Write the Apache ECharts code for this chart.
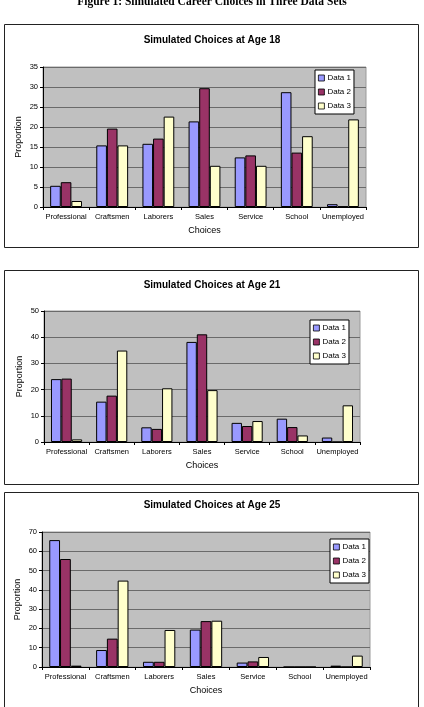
<!DOCTYPE html>
<html>
<head>
<meta charset="utf-8">
<script src="https://cdn.jsdelivr.net/npm/echarts@6/dist/echarts.min.js"></script>
<style>
html,body{margin:0;padding:0;background:#fff;}
#chart{width:424px;height:707px;}
</style>
</head>
<body>
<div id="chart"></div>
<script>
const figureTitle = 'Figure 1: Simulated Career Choices in Three Data Sets';
const categories = ['Professional','Craftsmen','Laborers','Sales','Service','School','Unemployed'];
const seriesNames = ['Data 1','Data 2','Data 3'];
const panelTitles = ['Simulated Choices at Age 18','Simulated Choices at Age 21','Simulated Choices at Age 25'];
const yMax = [35, 50, 70];
const yInterval = [5, 10, 10];

const age18Data1 = [5.3, 15.4, 15.8, 21.4, 12.4, 28.7, 0.7];
const age18Data2 = [6.2, 19.6, 17.1, 29.7, 12.9, 13.6, 0.15];
const age18Data3 = [1.5, 15.4, 22.6, 10.3, 10.3, 17.7, 21.9];

const age21Data1 = [24.0, 15.4, 5.6, 38.2, 7.3, 8.9, 1.7];
const age21Data2 = [24.2, 17.7, 5.0, 41.1, 6.1, 5.7, 0];
const age21Data3 = [1.0, 34.9, 20.5, 19.8, 8.0, 2.5, 14.0];

const age25Data1 = [65.8, 8.8, 2.7, 19.4, 2.3, 0, 0.7];
const age25Data2 = [56.0, 14.7, 2.7, 23.8, 2.9, 0, 0];
const age25Data3 = [0.7, 44.8, 19.2, 24.0, 5.2, 0, 5.9];

const panelData = [
  [age18Data1, age18Data2, age18Data3],
  [age21Data1, age21Data2, age21Data3],
  [age25Data1, age25Data2, age25Data3]
];
const colors = ['#9999FF', '#993366', '#FFFFCC'];

// layout
const panelBoxes = [
  {x: 4, y: 24, w: 414, h: 223},
  {x: 4, y: 270, w: 414, h: 214},
  {x: 4, y: 492, w: 414, h: 230}
];
const grids = [
  {left: 43, top: 67, width: 323, height: 140},
  {left: 44, top: 311, width: 316, height: 131},
  {left: 42, top: 532, width: 328, height: 135}
];
const titleY = [39, 284, 504];
const legendPos = [{left: 315, top: 70}, {left: 310, top: 320}, {left: 330, top: 539}];

const font = 'Liberation Sans, Arial, sans-serif';

const option = {
  animation: false,
  backgroundColor: '#fff',
  title: [],
  legend: [],
  grid: [],
  xAxis: [],
  yAxis: [],
  series: [],
  graphic: []
};

panelBoxes.forEach(b => {
  option.graphic.push({
    type: 'rect', z: -10,
    shape: {x: b.x + 0.5, y: b.y + 0.5, width: b.w, height: b.h},
    style: {fill: '#fff', stroke: '#222', lineWidth: 1}
  });
});
option.graphic.push({
  type: 'text', z: 10,
  style: {
    text: figureTitle, x: 212, y: 2, align: 'center', verticalAlign: 'middle',
    font: 'bold 11.5px "Liberation Serif", "Times New Roman", serif', fill: '#000'
  }
});

for (let p = 0; p < 3; p++) {
  const g = grids[p];
  option.title.push({
    text: panelTitles[p], left: 'center', top: titleY[p] - 9,
    textStyle: {fontFamily: font, fontSize: 10, fontWeight: 'bold', color: '#000'}
  });
  option.grid.push({
    left: g.left, top: g.top, width: g.width, height: g.height,
    show: true, backgroundColor: '#C0C0C0', borderColor: '#9a9a9a', borderWidth: 1
  });
  option.xAxis.push({
    type: 'category', gridIndex: p, data: categories,
    name: 'Choices', nameLocation: 'middle', nameGap: 19, nameMoveOverlap: false,
    nameTextStyle: {fontFamily: font, fontSize: 9, color: '#000'},
    axisLine: {lineStyle: {color: '#000', width: 1}},
    axisTick: {show: true, length: 3, lineStyle: {color: '#000'}},
    axisLabel: {fontFamily: font, fontSize: 7.5, color: '#000', margin: 6, interval: 0},
    splitLine: {show: false}
  });
  option.yAxis.push({
    type: 'value', gridIndex: p, min: 0, max: yMax[p], interval: yInterval[p],
    name: 'Proportion', nameLocation: 'middle', nameGap: 20, nameMoveOverlap: false,
    nameTextStyle: {fontFamily: font, fontSize: 9, color: '#000'},
    axisLine: {show: true, lineStyle: {color: '#000', width: 1}},
    axisTick: {show: true, length: 3, lineStyle: {color: '#000'}},
    axisLabel: {fontFamily: font, fontSize: 7.5, color: '#000', margin: 5},
    splitLine: {show: true, lineStyle: {color: '#6a6a6a', width: 1}}
  });
  option.legend.push({
    left: legendPos[p].left, top: legendPos[p].top, orient: 'vertical',
    data: seriesNames, icon: 'rect', itemWidth: 6, itemHeight: 6, itemGap: 6,
    padding: [4, 3, 4, 3],
    itemStyle: {borderWidth: 0.8, borderColor: '#000'},
    backgroundColor: '#fff', borderColor: '#000', borderWidth: 1, borderRadius: 0,
    textStyle: {fontFamily: font, fontSize: 8, color: '#000', padding: [0, 0, 0, -2]},
    selectedMode: false
  });
  for (let s = 0; s < 3; s++) {
    option.series.push({
      type: 'bar', name: seriesNames[s], xAxisIndex: p, yAxisIndex: p,
      data: panelData[p][s],
      barGap: '0%', barCategoryGap: '31%',
      itemStyle: {color: colors[s], borderColor: '#000', borderWidth: 1}
    });
  }
}

const chart = echarts.init(document.getElementById('chart'), null, {renderer: 'canvas'});
chart.setOption(option);
</script>
</body>
</html>
